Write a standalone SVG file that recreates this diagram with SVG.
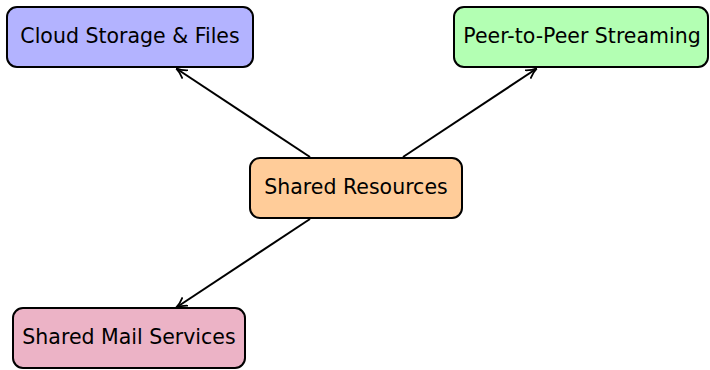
<svg xmlns="http://www.w3.org/2000/svg" width="710" height="370" viewBox="0 0 710 370">
<style>
.box{stroke:#000;stroke-width:2}
.lbl{font-family:"DejaVu Sans","Liberation Sans",sans-serif;font-size:20.5px;fill:#000;text-anchor:middle;dominant-baseline:central}
.edge{stroke:#000;stroke-width:2;fill:none;marker-end:url(#ah)}
</style>
<defs>
<marker id="ah" viewBox="0 0 10 10" refX="9" refY="5" markerWidth="5.5" markerHeight="5.5" orient="auto" markerUnits="strokeWidth">
<path d="M0,0.5 Q5,4 10,5 Q5,6 0,9.5" fill="none" stroke="#000" stroke-width="1.6"/>
</marker>
</defs>
<g id="connectors">
<line class="edge" x1="310" y1="157" x2="177" y2="69"/>
<line class="edge" x1="403" y1="157" x2="536" y2="69"/>
<line class="edge" x1="310" y1="219" x2="177" y2="307"/>
</g>
<g id="cloud">
<rect class="box" x="7" y="7" width="246" height="60" rx="10" fill="#b3b3ff"/>
<text class="lbl" x="130" y="36">Cloud Storage &amp; Files</text>
</g>
<g id="p2p">
<rect class="box" x="454" y="7" width="254" height="60" rx="10" fill="#b3ffb3"/>
<text class="lbl" x="582" y="36">Peer-to-Peer Streaming</text>
</g>
<g id="shared">
<rect class="box" x="250" y="158" width="212" height="60" rx="10" fill="#ffcc99"/>
<text class="lbl" x="356" y="187">Shared Resources</text>
</g>
<g id="mail">
<rect class="box" x="13" y="308" width="232" height="60" rx="10" fill="#ecb3c6"/>
<text class="lbl" x="129" y="337">Shared Mail Services</text>
</g>
</svg>
